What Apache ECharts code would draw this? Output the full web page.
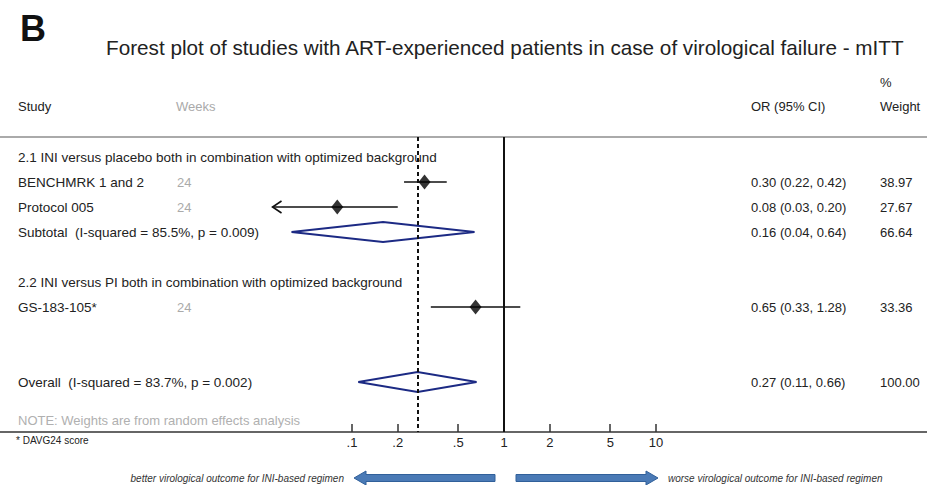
<!DOCTYPE html>
<html>
<head>
<meta charset="utf-8">
<script src="https://cdn.jsdelivr.net/npm/echarts@6/dist/echarts.min.js"></script>
<style>
  html, body { margin: 0; padding: 0; background: #fff; }
  #chart { width: 927px; height: 485px; }
</style>
</head>
<body>
<div id="chart"></div>
<script>
// rows of the table, top to bottom (row index = position on the y axis)
const rowLabels = [
  '2.1 INI versus placebo both in combination with optimized background',
  'BENCHMRK 1 and 2',
  'Protocol 005',
  'Subtotal  (I-squared = 85.5%, p = 0.009)',
  '',
  '2.2 INI versus PI both in combination with optimized background',
  'GS-183-105*',
  '',
  '',
  'Overall  (I-squared = 83.7%, p = 0.002)'
]
const rowWeeks = ['', '24', '24', '', '', '', '24', '', '', '']
const rowCI = ['', '0.30 (0.22, 0.42)', '0.08 (0.03, 0.20)', '0.16 (0.04, 0.64)', '', '', '0.65 (0.33, 1.28)', '', '', '0.27 (0.11, 0.66)']
const rowWeight = ['', '38.97', '27.67', '66.64', '', '', '33.36', '', '', '100.00']

// single studies
const studyRows = [1, 2, 6]
const studyOR = [0.30, 0.08, 0.65]
const studyLo = [0.22, 0.03, 0.33]
const studyHi = [0.42, 0.20, 1.28]
const studyClipped = [false, true, false]

// pooled estimates (subtotal, overall)
const pooledRows = [3, 9]
const pooledOR = [0.16, 0.27]
const pooledLo = [0.04, 0.11]
const pooledHi = [0.64, 0.66]

const tickValues = [0.1, 0.2, 0.5, 1, 2, 5, 10]
const tickLabels = ['.1', '.2', '.5', '1', '2', '5', '10']

const FONT = '"Liberation Sans", Arial, Helvetica, sans-serif'
const W = 927
const ONE_X = 504
const DECADE = 152
const xMin = Math.pow(10, -ONE_X / DECADE)
const xMax = Math.pow(10, (W - ONE_X) / DECADE)

const chart = echarts.init(document.getElementById('chart'), null, { renderer: 'svg' })

function tickLabel(v) {
  let best = 0
  let d = Infinity
  tickValues.forEach((t, i) => {
    const e = Math.abs(Math.log(v / t))
    if (e < d) { d = e; best = i }
  })
  return tickLabels[best]
}

const txt = (x, y, text, style) => ({
  type: 'text', x: x, y: y, silent: true,
  style: Object.assign({ text: text, font: '13px ' + FONT, fill: '#222', textVerticalAlign: 'middle' }, style)
})

const blockArrow = (x0, x1, y, dir) => {
  // x0 = tip, x1 = tail
  const s = dir < 0 ? 1 : -1
  const head = 12
  return {
    type: 'polygon', silent: true,
    shape: {
      points: [
        [x0, y], [x0 + s * head, y - 7], [x0 + s * head, y - 3.5], [x1, y - 3.5],
        [x1, y + 3.5], [x0 + s * head, y + 3.5], [x0 + s * head, y + 7]
      ]
    },
    style: { fill: '#4a7ab6', stroke: '#31609a', lineWidth: 1 }
  }
}

const option = {
  animation: false,
  backgroundColor: '#fff',
  grid: { left: 0, right: 0, top: 137, bottom: 53 },
  xAxis: {
    type: 'log',
    min: xMin,
    max: xMax,
    axisLine: { show: true, onZero: false, lineStyle: { color: '#333', width: 1.5 } },
    axisTick: { show: true, inside: true, length: 8, customValues: tickValues, lineStyle: { color: '#333', width: 1.5 } },
    axisLabel: { customValues: tickValues, formatter: tickLabel, margin: 4, color: '#222', fontSize: 13, fontFamily: FONT },
    splitLine: { show: false },
    minorTick: { show: false }
  },
  yAxis: { type: 'value', inverse: true, min: -0.8, max: 11, show: false },
  graphic: [
    txt(20, 28, 'B', { font: 'bold 36px ' + FONT, fill: '#111' }),
    txt(106, 47, 'Forest plot of studies with ART-experienced patients in case of virological failure - mITT', { font: '20.7px ' + FONT, fill: '#222' }),
    txt(880, 82, '%'),
    txt(18, 106, 'Study'),
    txt(176, 106, 'Weeks', { fill: '#aaa' }),
    txt(751, 106, 'OR (95% CI)'),
    txt(880, 106, 'Weight'),
    { type: 'line', silent: true, shape: { x1: 0, y1: 137, x2: W, y2: 137 }, style: { stroke: '#aaa', lineWidth: 2 } },
    txt(18, 420, 'NOTE: Weights are from random effects analysis', { fill: '#b0b0b0' }),
    txt(16, 440, '* DAVG24 score', { font: '10px ' + FONT }),
    txt(344, 478, 'better virological outcome for INI-based regimen', { font: 'italic 10px ' + FONT, textAlign: 'right', fill: '#333' }),
    txt(668, 478, 'worse virological outcome for INI-based regimen', { font: 'italic 10px ' + FONT, fill: '#333' }),
    blockArrow(354, 495, 478, -1),
    blockArrow(658, 516, 478, 1)
  ],
  series: [
    {
      // table text
      type: 'custom',
      name: 'rows',
      silent: true,
      z: 1,
      data: rowLabels.map((l, i) => [1, i]),
      renderItem: (params, api) => {
        const i = params.dataIndex
        const y = api.coord([1, api.value(1)])[1]
        const st = (text, x, fill, size) => ({
          type: 'text', x: x, y: y,
          style: { text: text, font: size + 'px ' + FONT, fill: fill, textVerticalAlign: 'middle' }
        })
        return {
          type: 'group',
          children: [
            st(rowLabels[i], 18, '#222', 13.5),
            st(rowWeeks[i], 177, '#aaa', 13),
            st(rowCI[i], 751, '#222', 13),
            st(rowWeight[i], 880, '#222', 13)
          ]
        }
      }
    },
    {
      // confidence intervals
      type: 'custom',
      name: 'ci',
      silent: true,
      z: 3,
      data: studyRows.map((r, i) => [studyLo[i], studyHi[i], r, studyClipped[i] ? 1 : 0]),
      renderItem: (params, api) => {
        const a = api.coord([api.value(0), api.value(2)])
        const b = api.coord([api.value(1), api.value(2)])
        const children = [{
          type: 'line', shape: { x1: a[0], y1: a[1], x2: b[0], y2: b[1] },
          style: { stroke: '#111', lineWidth: 1.6 }
        }]
        if (api.value(3)) {
          children.push({
            type: 'polyline',
            shape: { points: [[a[0] + 9, a[1] - 6], [a[0], a[1]], [a[0] + 9, a[1] + 6]] },
            style: { stroke: '#111', lineWidth: 1.6, fill: 'none' }
          })
        }
        return { type: 'group', children: children }
      }
    },
    {
      type: 'scatter',
      name: 'OR',
      silent: true,
      z: 4,
      symbol: 'diamond',
      symbolSize: [12, 15],
      itemStyle: { color: '#000' },
      data: studyRows.map((r, i) => [studyOR[i], r]),
      markLine: {
        silent: true,
        symbol: 'none',
        label: { show: false },
        data: [
          { xAxis: 1, lineStyle: { color: '#111', width: 2, type: 'solid' } },
          { xAxis: pooledOR[1], lineStyle: { color: '#111', width: 2, type: [4, 3] } }
        ]
      }
    },
    {
      // pooled diamonds
      type: 'custom',
      name: 'pooled',
      silent: true,
      z: 2,
      data: pooledRows.map((r, i) => [pooledLo[i], pooledOR[i], pooledHi[i], r]),
      renderItem: (params, api) => {
        const r = api.value(3)
        const lo = api.coord([api.value(0), r])
        const mid = api.coord([api.value(1), r])
        const hi = api.coord([api.value(2), r])
        return {
          type: 'polygon',
          shape: { points: [lo, [mid[0], mid[1] - 10], hi, [mid[0], mid[1] + 10]] },
          style: { fill: '#fff', stroke: '#1c2a84', lineWidth: 1.8 }
        }
      }
    }
  ]
}

chart.setOption(option)
</script>
</body>
</html>
